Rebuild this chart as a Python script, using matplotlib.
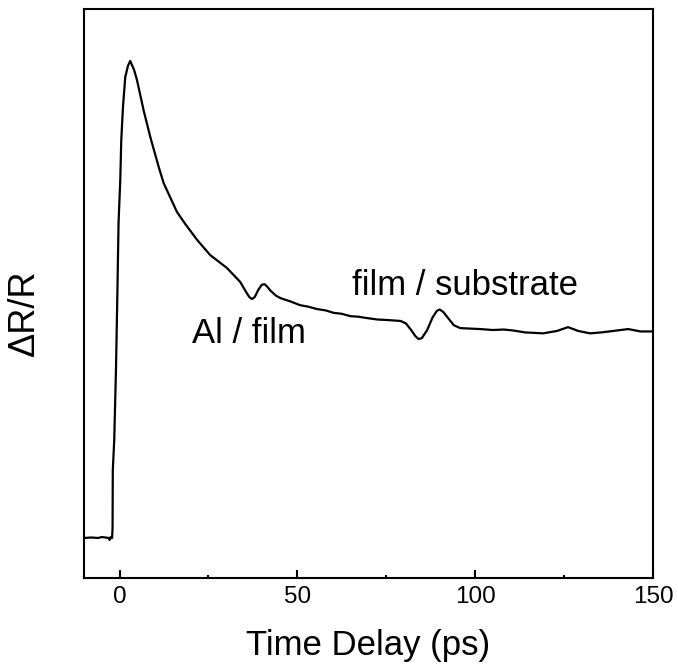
import matplotlib
matplotlib.use("Agg")
import matplotlib.pyplot as plt
from matplotlib.ticker import MultipleLocator

plt.rcParams['font.family'] = ['Liberation Sans', 'DejaVu Sans']

# time delay (ps) and reflectivity change (arb. units, baseline 0, peak 1)
time_ps = [-10, -8, -6, -5, -4, -3, -2.8, -2.5, -2.1, -1.97, -1.9, -1.5, -1.0,
           -0.65, -0.28, 0.2, 0.48, 0.96, 1.6, 2.36, 3.0, 4.1, 4.9, 6.75, 8.63,
           11.0, 12.4, 16.1, 18.5, 21.8, 25.5, 30.2, 33.9, 35.8, 36.5, 37.2,
           38.0, 39.0, 40.0, 40.8, 41.5, 42.5, 44.0, 45.2, 48.0, 50.8, 53.0,
           55.5, 58.0, 60.2, 62.5, 64.9, 67.0, 69.6, 72.5, 75.2, 79.0, 80.5,
           82.0, 83.2, 84.1, 85.0, 86.5, 88.0, 89.2, 90.0, 91.0, 92.5, 94.0,
           95.8, 98.5, 101.4, 105.0, 108.0, 110.7, 114.0, 119.1, 123.0, 126.1,
           129.0, 132.3, 135.5, 138.8, 143.0, 146.5, 150.0]
dR_R = [0.000, 0.001, 0.000, 0.002, 0.001, 0.000, -0.004, 0.002, 0.000, 0.021,
        0.143, 0.205, 0.356, 0.499, 0.662, 0.751, 0.834, 0.904, 0.966, 0.990,
        1.000, 0.981, 0.960, 0.897, 0.841, 0.778, 0.744, 0.684, 0.658, 0.625,
        0.593, 0.566, 0.537, 0.513, 0.505, 0.501, 0.505, 0.520, 0.531, 0.532,
        0.527, 0.518, 0.508, 0.503, 0.496, 0.488, 0.485, 0.480, 0.477, 0.472,
        0.470, 0.465, 0.464, 0.461, 0.458, 0.457, 0.455, 0.450, 0.436, 0.423,
        0.417, 0.419, 0.436, 0.462, 0.476, 0.479, 0.474, 0.460, 0.446, 0.440,
        0.439, 0.438, 0.436, 0.437, 0.435, 0.431, 0.429, 0.434, 0.442, 0.434,
        0.429, 0.431, 0.434, 0.438, 0.433, 0.433]

x_ticks = [0, 50, 100, 150]

fig = plt.figure(figsize=(6.78, 6.72), dpi=100)
ax = fig.add_axes([84 / 678, 1 - 578 / 672, 569 / 678, 569 / 672])

ax.plot(time_ps, dR_R, color='black', linewidth=1.6)

ax.set_xlim(-10, 150)
ax.set_ylim(-0.0839, 1.109)
ax.set_xticks(x_ticks)
ax.xaxis.set_minor_locator(MultipleLocator(25))
ax.set_yticks([])

ax.tick_params(axis='x', which='major', direction='in', length=6, width=1.5,
               labelsize=17.5, pad=6)
ax.tick_params(axis='x', which='minor', direction='in', length=2.5, width=1.5)
for sp in ax.spines.values():
    sp.set_linewidth(1.5)

ax.set_xlabel('Time Delay (ps)', fontsize=25)
ax.xaxis.set_label_coords(0.5, -0.09)
ax.set_ylabel('ΔR/R', fontsize=26)
ax.yaxis.set_label_coords(-0.074, 0.467)

ax.text(20.35, 0.409, 'Al / film', fontsize=25, ha='left', va='baseline')
ax.text(65.3, 0.509, 'film / substrate', fontsize=25, ha='left', va='baseline')

fig.savefig('out.png', dpi=100)
